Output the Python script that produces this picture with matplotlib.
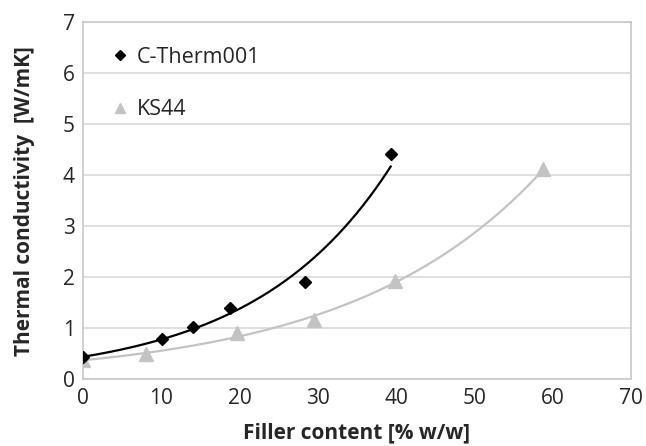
import numpy as np
import matplotlib.pyplot as plt

plt.rcParams['font.family'] = ['Open Sans', 'DejaVu Sans']

# measured values
ct_x = [0, 10.1, 14.1, 18.8, 28.3, 39.3]
ct_y = [0.43, 0.79, 1.02, 1.40, 1.91, 4.42]
ks_x = [0, 8.0, 19.7, 29.5, 39.8, 58.8]
ks_y = [0.38, 0.49, 0.90, 1.16, 1.93, 4.12]

x_ticks = [0, 10, 20, 30, 40, 50, 60, 70]
y_ticks = [0, 1, 2, 3, 4, 5, 6, 7]

fig = plt.figure(figsize=(6.46, 4.46), dpi=100)
ax = fig.add_axes([0.1285, 0.1496, 0.8483, 0.8004])

gray = '#c3c3c3'

# exponential trendlines (excel style)
def exp_fit(x, y):
    b, a = np.polyfit(x, np.log(y), 1)
    xx = np.linspace(min(x), max(x), 200)
    return xx, np.exp(a) * np.exp(b * xx)

xx, yy = exp_fit(ct_x, ct_y)
ax.plot(xx, yy, color='black', lw=1.6, zorder=3)
xx, yy = exp_fit(ks_x, ks_y)
ax.plot(xx, yy, color=gray, lw=1.6, zorder=2)

ax.plot(ct_x, ct_y, 'D', color='black', ms=6.5, ls='none', label='C-Therm001', zorder=4)
ax.plot(ks_x, ks_y, '^', color=gray, ms=9.5, ls='none', label='KS44', zorder=3)

ax.set_xlim(0, 70)
ax.set_ylim(0, 7)
ax.set_xticks(x_ticks)
ax.set_yticks(y_ticks)
ax.tick_params(length=0, labelsize=15, colors='#262626', pad=6)
ax.yaxis.grid(True, color='#d9d9d9', lw=1.2)
ax.set_axisbelow(True)
for s in ax.spines.values():
    s.set_color('#c8c8c8')
    s.set_linewidth(1.2)

ax.set_xlabel('Filler content [% w/w]', fontsize=15, fontweight='bold', color='#262626', labelpad=10)
ax.set_ylabel('Thermal conductivity  [W/mK]', fontsize=15, fontweight='bold', color='#262626', labelpad=20)

leg = ax.legend(loc='upper left', bbox_to_anchor=(0.02, 0.985), frameon=False,
                fontsize=15.5, handlelength=0.6, handletextpad=0.5, labelspacing=1.45,
                markerscale=0.75)
for t in leg.get_texts():
    t.set_color('#262626')

fig.savefig('out.png', dpi=100)
